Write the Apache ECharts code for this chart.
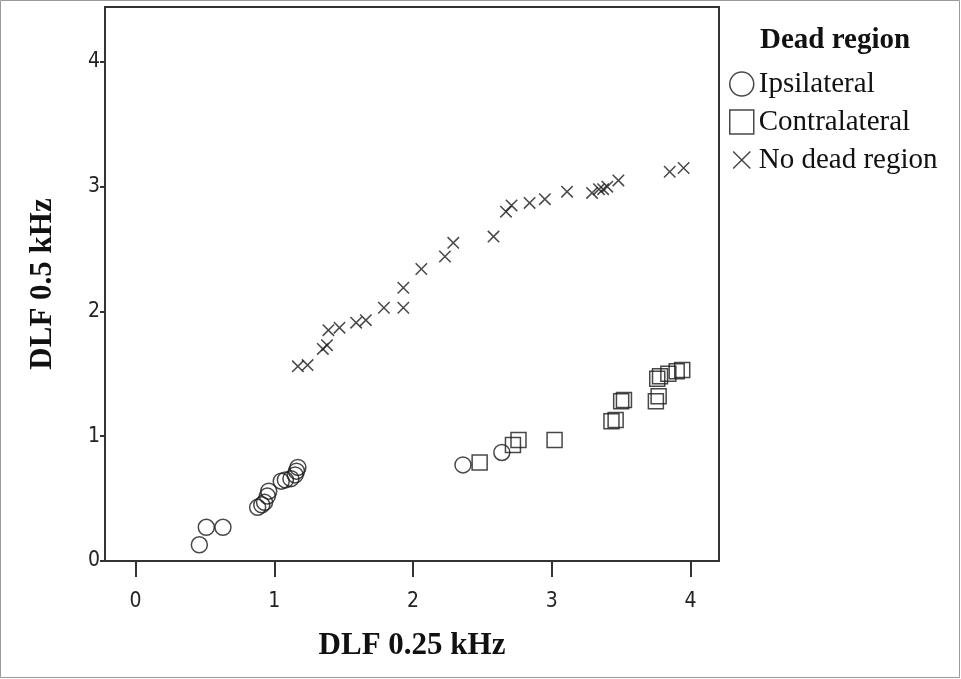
<!DOCTYPE html>
<html>
<head>
<meta charset="utf-8">
<script src="https://cdn.jsdelivr.net/npm/echarts@6/dist/echarts.min.js"></script>
<style>
html,body{margin:0;padding:0;background:#fff;}
#c{width:961px;height:679px;}
</style>
</head>
<body>
<div id="c"></div>
<script>
const legendTitle = 'Dead region';
const seriesNames = ['Ipsilateral', 'Contralateral', 'No dead region'];
const xTicks = [0, 1, 2, 3, 4];
const yTicks = [0, 1, 2, 3, 4];
const xName = 'DLF 0.25 kHz';
const yName = 'DLF 0.5 kHz';

const ipsilateral = [
  [0.46,0.13],[0.51,0.27],[0.63,0.27],[0.88,0.43],[0.91,0.45],[0.93,0.47],
  [0.95,0.52],[0.96,0.56],[1.05,0.64],[1.08,0.65],[1.12,0.66],[1.15,0.69],
  [1.16,0.72],[1.17,0.75],[2.36,0.77],[2.64,0.87]
];
const contralateral = [
  [2.48,0.79],[2.72,0.93],[2.76,0.97],[3.02,0.97],[3.43,1.12],[3.46,1.13],
  [3.50,1.28],[3.52,1.29],[3.75,1.28],[3.77,1.32],[3.76,1.46],[3.78,1.48],
  [3.84,1.50],[3.90,1.52],[3.94,1.53]
];
const noDeadRegion = [
  [1.17,1.56],[1.24,1.57],[1.35,1.70],[1.38,1.73],[1.39,1.85],[1.47,1.87],
  [1.59,1.91],[1.66,1.93],[1.79,2.03],[1.93,2.03],[1.93,2.19],[2.06,2.34],
  [2.23,2.44],[2.29,2.55],[2.58,2.60],[2.67,2.80],[2.71,2.85],[2.84,2.87],
  [2.95,2.90],[3.11,2.96],[3.29,2.95],[3.34,2.98],[3.37,2.98],[3.40,3.00],
  [3.48,3.05],[3.85,3.12],[3.95,3.15]
];

// X glyph padded with invisible move points so the legend icon is a bit smaller than its box
const X_PATH = 'path://M-2,-2M0,0L10,10M0,10L10,0M12,12';
const markStyle = {color: 'rgba(0,0,0,0)', borderColor: '#1a1a1a', borderWidth: 1.5};
const tickFont = 'Liberation Sans Narrow, DejaVu Sans Condensed, sans-serif';

const chart = echarts.init(document.getElementById('c'), null, {renderer: 'canvas'});
chart.setOption({
  backgroundColor: '#fff',
  animation: false,
  title: {
    text: legendTitle,
    left: 755, top: 21,
    textStyle: {fontFamily: 'Liberation Serif', fontWeight: 'bold', fontSize: 29, color: '#111'}
  },
  legend: {
    orient: 'vertical',
    left: 724, top: 64,
    itemWidth: 24, itemHeight: 24,
    itemGap: 8,
    textStyle: {fontFamily: 'Liberation Serif', fontSize: 29, color: '#111', lineHeight: 30},
    data: [
      {name: seriesNames[0], icon: 'circle', itemStyle: markStyle},
      {name: seriesNames[1], icon: 'rect', itemStyle: markStyle},
      {name: seriesNames[2], icon: X_PATH, itemStyle: markStyle}
    ]
  },
  grid: {
    left: 105, top: 7, right: 242, bottom: 118,
    show: true, borderColor: '#333', borderWidth: 2, backgroundColor: '#fff'
  },
  xAxis: {
    type: 'value', min: -0.22, max: 4.205,
    name: xName, nameLocation: 'middle', nameGap: 69,
    nameTextStyle: {fontFamily: 'Liberation Serif', fontWeight: 'bold', fontSize: 31, color: '#111'},
    axisLine: {show: true, onZero: false, lineStyle: {color: '#333', width: 2}},
    axisTick: {show: true, customValues: xTicks, length: 16, lineStyle: {color: '#333', width: 2}},
    axisLabel: {customValues: xTicks, margin: 30, fontFamily: tickFont, fontSize: 21, color: '#222'},
    splitLine: {show: false}
  },
  yAxis: {
    type: 'value', min: 0, max: 4.44,
    name: yName, nameLocation: 'middle', nameGap: 47, nameRotate: 90,
    nameTextStyle: {fontFamily: 'Liberation Serif', fontWeight: 'bold', fontSize: 31, color: '#111'},
    axisLine: {show: true, onZero: false, lineStyle: {color: '#333', width: 2}},
    axisTick: {show: true, customValues: yTicks, length: 5, lineStyle: {color: '#333', width: 2}},
    axisLabel: {customValues: yTicks, margin: 5, fontFamily: tickFont, fontSize: 21, color: '#222'},
    splitLine: {show: false}
  },
  graphic: [{
    type: 'rect', silent: true, z: -1,
    shape: {x: 0.5, y: 0.5, width: 959, height: 677},
    style: {fill: 'none', stroke: '#9a9a9a', lineWidth: 1}
  }],
  series: [
    {name: seriesNames[0], type: 'scatter', symbol: 'circle', symbolSize: 16, data: ipsilateral, itemStyle: markStyle},
    {name: seriesNames[1], type: 'scatter', symbol: 'rect', symbolSize: 15, data: contralateral, itemStyle: markStyle},
    {name: seriesNames[2], type: 'scatter', symbol: X_PATH, symbolSize: 16, data: noDeadRegion, itemStyle: markStyle}
  ]
});
</script>
</body>
</html>
